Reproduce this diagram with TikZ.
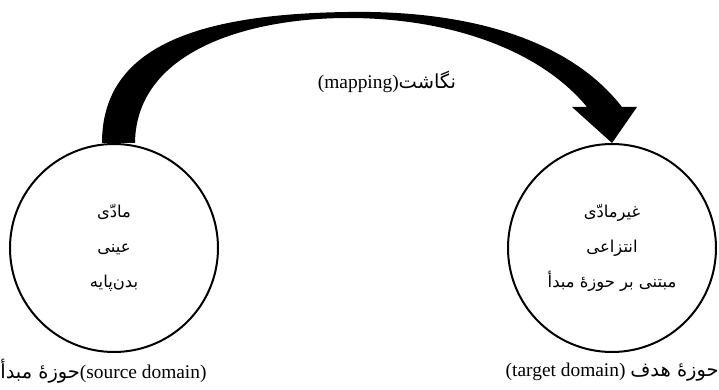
\documentclass[tikz,border=0pt]{standalone}
\usepackage{fontspec}
\setmainfont{Liberation Serif}
\newfontfamily\arabicfont[Script=Arabic]{DejaVu Sans}
\TeXXeTstate=1
\usetikzlibrary{calc}
\tikzset{
  domainnode/.style={circle,draw,line width=1pt,minimum size=104pt,inner sep=0pt,
    align=center,font={\arabicfont\fontsize{8.2}{17.5}\selectfont}},
  labeltext/.style={inner sep=0pt,font={\rmfamily\fontsize{9.7}{11}\selectfont}}
}
\begin{document}
\begin{tikzpicture}[x=0.5pt,y=-0.5pt]
  \useasboundingbox (0,0) rectangle (719,390);
  \node[domainnode] (src) at (114,248) {\beginR مادّی\endR\\ \beginR عینی\endR\\ \beginR بدن‌پایه\endR};
  \node[domainnode] (tgt) at (612,248) {\beginR غیرمادّی\endR\\ \beginR انتزاعی\endR\\ \beginR مبتنی بر حوزهٔ مبدأ\endR};

  \coordinate (tailL) at ($(src.north)+(-12,0)$);
  \coordinate (tailR) at ($(src.north)+(21,0)$);
  \fill (tailL) .. controls (102,50) and (190,14) .. (348,12)
    .. controls (470,10) and (570,40) .. (622,107)
    -- (637,107) -- (tgt.north) -- (572,107) -- (587,107)
    .. controls (540,50) and (450,18) .. (348,18)
    .. controls (250,18) and (136,50) .. (tailR) -- cycle;

  \node[labeltext] (map) at (387,82) {(mapping){\arabicfont\beginR نگاشت\endR}};
  \node[labeltext,anchor=west] (srclabel) at (0,371) {{\arabicfont\beginR حوزهٔ مبدأ\endR}(source domain)};
  \node[labeltext,anchor=east] (tgtlabel) at (719,372) {(target domain) {\arabicfont\beginR حوزهٔ هدف\endR}};
\end{tikzpicture}
\end{document}
